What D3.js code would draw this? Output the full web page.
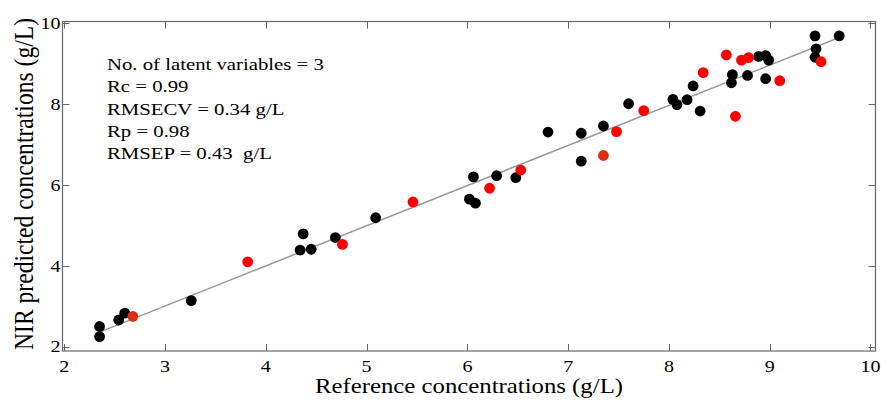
<!DOCTYPE html>
<html><head><meta charset="utf-8">
<script src="https://cdn.jsdelivr.net/npm/d3@7"></script>
<style>body{margin:0;background:#fff}svg{display:block}text{font-family:"Liberation Serif","Times New Roman",serif;fill:#000}</style>
</head><body><svg id="c" width="881" height="400"></svg>
<script>
const calX=[2.35,2.35,2.54,2.60,3.26,4.37,4.34,4.45,4.69,5.09,6.02,6.08,6.06,6.29,6.48,6.80,7.13,7.13,7.35,7.60,8.04,8.08,8.18,8.24,8.31,8.63,8.62,8.78,8.89,8.96,8.99,8.96,9.45,9.46,9.45,9.69];
const calY=[2.50,2.25,2.66,2.83,3.14,4.79,4.39,4.41,4.70,5.19,5.65,5.55,6.20,6.23,6.18,7.31,7.28,6.59,7.46,8.01,8.12,7.99,8.11,8.45,7.83,8.73,8.53,8.71,9.18,9.20,9.09,8.63,9.69,9.37,9.16,9.69];
const predX=[2.68,3.82,4.76,5.46,6.22,6.53,7.35,7.48,7.75,8.34,8.57,8.72,8.79,8.66,9.10,9.51];
const predY=[2.75,4.10,4.53,5.58,5.92,6.37,6.73,7.32,7.84,8.78,9.22,9.09,9.15,7.70,8.58,9.05];
const predShade=[1,0,0,0,0,0,1,0,0,0,0,0,0,0,0,0];
const lineX=[2.35,9.69];
const lineY=[2.36,9.65];
const xTicks=[2,3,4,5,6,7,8,9,10];
const yTicks=[2,4,6,8,10];
const statLines=["No. of latent variables = 3","Rc = 0.99","RMSECV = 0.34 g/L","Rp = 0.98","RMSEP = 0.43  g/L"];

const svg=d3.select("#c");
const L=62.5,R=875.5,T=21.5,B=351;
const SX=1.18;
const x=d3.scaleLinear().domain([1.982,10.05]).range([L,R]);
const y=d3.scaleLinear().domain([1.893,10.045]).range([B,T]);
const axCol="#666";
function htext(px,py,size,anchor,s){
  svg.append("g").attr("transform",`translate(${px},${py}) scale(${SX},1)`)
    .append("text").attr("text-anchor",anchor).attr("font-size",size).attr("xml:space","preserve").style("white-space","pre").text(s);
}
svg.append("rect").attr("x",L).attr("y",T).attr("width",R-L).attr("height",B-T).attr("fill","none").attr("stroke",axCol).attr("stroke-width",1.2);
const tl=7;
const g=svg.append("g");
xTicks.forEach(t=>{
  const px=Math.round(x(t))+0.5;
  g.append("line").attr("x1",px).attr("x2",px).attr("y1",B).attr("y2",B-tl).attr("stroke",axCol);
  g.append("line").attr("x1",px).attr("x2",px).attr("y1",T).attr("y2",T+tl).attr("stroke",axCol);
  htext(x(t),371.5,17,"middle",t);
});
yTicks.forEach(t=>{
  const py=Math.round(y(t))+0.5;
  g.append("line").attr("x1",L).attr("x2",L+tl).attr("y1",py).attr("y2",py).attr("stroke",axCol);
  g.append("line").attr("x1",R).attr("x2",R-tl).attr("y1",py).attr("y2",py).attr("stroke",axCol);
  htext(L-2,y(t)+5.8,17,"end",t);
});
svg.append("line").attr("x1",x(lineX[0])).attr("y1",y(lineY[0])).attr("x2",x(lineX[1])).attr("y2",y(lineY[1])).attr("stroke","#999").attr("stroke-width",1.5);
svg.append("g").selectAll("circle").data(calX.map((v,i)=>[v,calY[i]])).join("circle")
  .attr("cx",d=>x(d[0])).attr("cy",d=>y(d[1])).attr("r",5.4).attr("fill","#000");
svg.append("g").selectAll("circle").data(predX.map((v,i)=>[v,predY[i],predShade[i]])).join("circle")
  .attr("cx",d=>x(d[0])).attr("cy",d=>y(d[1])).attr("r",5.4).attr("fill",d=>d[2]?"#d83010":"#ff0000");
statLines.forEach((s,i)=>htext(107,70+i*22.3,17.6,"start",s));
htext((L+R)/2,393,21,"middle","Reference concentrations (g/L)");
svg.append("text").attr("transform",`translate(33,${184}) scale(1.2,1) rotate(-90)`).attr("text-anchor","middle").attr("font-size",23.6).text("NIR predicted concentrations (g/L)");
</script></body></html>
